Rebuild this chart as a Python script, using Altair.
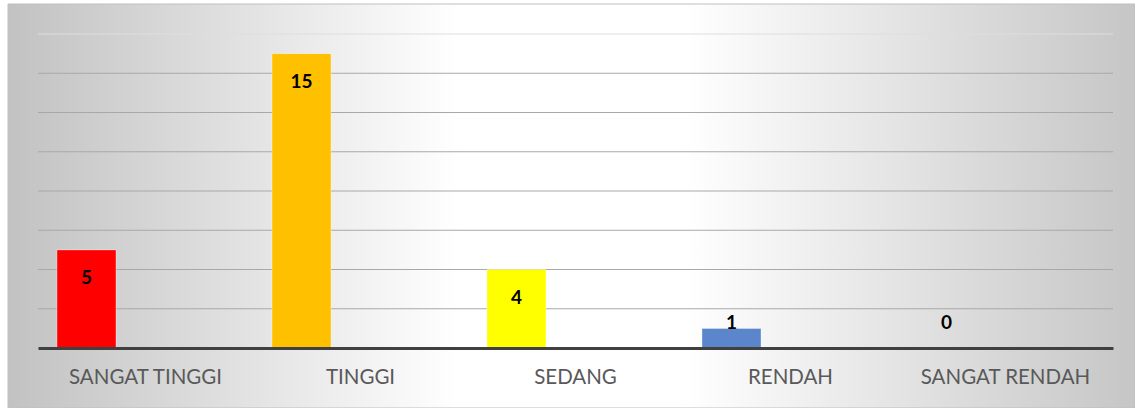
import altair as alt
import pandas as pd

categories = ["SANGAT TINGGI", "TINGGI", "SEDANG", "RENDAH", "SANGAT RENDAH"]
values = [5, 15, 4, 1, 0]
bar_colors = ["#FF0000", "#FFC000", "#FFFF00", "#5B86CC", "#A5A5A5"]
grid_ticks = [2, 4, 6, 8, 10, 12, 14, 16]

df = pd.DataFrame({"cat": categories, "value": values, "series": ["A"] * len(values)})
grid_df = pd.DataFrame({"tick": grid_ticks})
bg_df = pd.DataFrame({"k": [0]})

W, H = 1075, 314
PAD_L, PAD_T, PAD_R, PAD_B = 38, 34, 22, 60

y_scale = alt.Scale(domain=[0, 16], nice=False, zero=True)
x_enc = alt.X(
    "cat:N",
    sort=categories,
    scale=alt.Scale(paddingInner=0, paddingOuter=0),
    axis=alt.Axis(
        title=None, labelAngle=0, ticks=False, domainColor="#404040", domainWidth=3,
        labelColor="#595959", labelFont="Lato", labelFontSize=20.5, labelPadding=19,
        zindex=1,
    ),
)
xoff_enc = alt.XOffset(
    "series:N", scale=alt.Scale(domain=["A", "B"], paddingInner=0.5, paddingOuter=0.161)
)

background = alt.Chart(bg_df).mark_rect(
    fill={
        "gradient": "linear", "x1": 0, "y1": 0, "x2": 1, "y2": 0,
        "stops": [
            {"offset": 0, "color": "#c2c2c2"},
            {"offset": 0.4, "color": "#ffffff"},
            {"offset": 0.6, "color": "#ffffff"},
            {"offset": 1, "color": "#c6c6c6"},
        ],
    },
    stroke="#bfbfbf", strokeWidth=1,
).encode(
    x=alt.value(-PAD_L + 8), x2=alt.value(W + PAD_R),
    y=alt.value(-PAD_T + 4), y2=alt.value(H + PAD_B),
)

grid = alt.Chart(grid_df).mark_rule(strokeWidth=1).encode(
    y=alt.Y("tick:Q", scale=y_scale, axis=None),
    color=alt.condition("datum.tick == 16", alt.value("#dedede"), alt.value("#a8a8a8")),
)

bars = alt.Chart(df).mark_bar(stroke="white", strokeOpacity=0.35, strokeWidth=1).encode(
    x=x_enc,
    xOffset=xoff_enc,
    y=alt.Y("value:Q", scale=y_scale, axis=None),
    color=alt.Color("cat:N", scale=alt.Scale(domain=categories, range=bar_colors), legend=None),
)

labels = alt.Chart(df).transform_calculate(
    label_y="max(datum.value, 2.7)"
).mark_text(
    font="Lato", fontWeight="bold", fontSize=19, color="black", baseline="middle", dy=28
).encode(
    x=x_enc,
    xOffset=xoff_enc,
    y=alt.Y("label_y:Q", scale=y_scale, axis=None),
    text=alt.Text("value:Q"),
)

chart = alt.layer(background, grid, bars, labels).properties(
    width=W, height=H,
    padding={"left": PAD_L, "top": PAD_T, "right": PAD_R, "bottom": PAD_B},
    autosize=alt.AutoSizeParams(type="none"),
    background="white",
).configure_view(strokeWidth=0)

chart.save("out.html", embed_options={"renderer": "svg", "actions": False})
